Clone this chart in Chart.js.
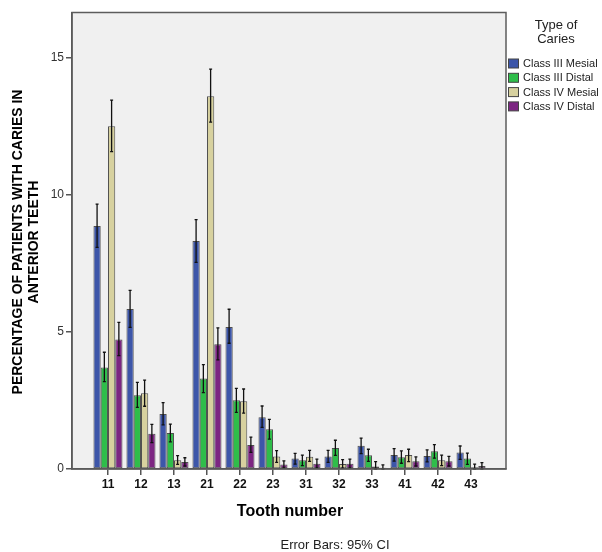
<!DOCTYPE html>
<html>
<head>
<meta charset="utf-8">
<script src="https://cdn.jsdelivr.net/npm/chart.js@4/dist/chart.umd.min.js"></script>
<style>
  html, body { margin: 0; padding: 0; background: #fff; }
  #wrap { width: 602px; height: 552px; }
</style>
</head>
<body>
<div id="wrap"><canvas id="chart" width="602" height="552"></canvas></div>
<script>
// tooth numbers on the x axis
const teeth = ['11', '12', '13', '21', '22', '23', '31', '32', '33', '41', '42', '43'];
const seriesNames = ['Class III Mesial', 'Class III Distal', 'Class IV Mesial', 'Class IV Distal'];

// bar heights (% of patients) and 95% CI bounds
const c3Mesial   = [8.87, 5.84, 2.01, 8.32, 5.18, 1.89, 0.38, 0.46, 0.85, 0.51, 0.47, 0.60];
const c3MesialLo = [8.09, 5.17, 1.61, 7.54, 4.59, 1.52, 0.18, 0.24, 0.56, 0.29, 0.26, 0.35];
const c3MesialHi = [9.67, 6.52, 2.42, 9.10, 5.83, 2.30, 0.57, 0.68, 1.13, 0.74, 0.70, 0.84];

const c3Distal   = [3.70, 2.69, 1.31, 3.30, 2.51, 1.45, 0.32, 0.77, 0.50, 0.43, 0.65, 0.38];
const c3DistalLo = [3.19, 2.25, 0.99, 2.79, 2.07, 1.09, 0.12, 0.50, 0.28, 0.21, 0.40, 0.17];
const c3DistalHi = [4.26, 3.16, 1.64, 3.81, 2.94, 1.81, 0.51, 1.05, 0.72, 0.66, 0.89, 0.58];

const c4Mesial   = [12.51, 2.76, 0.32, 13.60, 2.47, 0.46, 0.45, 0.18, 0.09, 0.51, 0.32, 0.06];
const c4MesialLo = [11.58, 2.29, 0.17, 12.66, 2.04, 0.24, 0.28, 0.03, 0.00, 0.27, 0.12, 0.00];
const c4MesialHi = [13.46, 3.24, 0.49, 14.59, 2.92, 0.67, 0.68, 0.34, 0.27, 0.72, 0.51, 0.18];

const c4Distal   = [4.73, 1.29, 0.26, 4.55, 0.88, 0.16, 0.19, 0.19, 0.05, 0.28, 0.28, 0.11];
const c4DistalLo = [4.14, 0.96, 0.11, 3.98, 0.61, 0.04, 0.04, 0.04, 0.00, 0.11, 0.11, 0.00];
const c4DistalHi = [5.35, 1.63, 0.41, 5.15, 1.16, 0.30, 0.36, 0.36, 0.15, 0.44, 0.46, 0.23];

const yTicks = [0, 5, 10, 15];

const FONT = "'Liberation Sans', Arial, sans-serif";
const colors = ['#3d56a9', '#2fbd4a', '#d7d19f', '#7c2682'];
const values = [c3Mesial, c3Distal, c4Mesial, c4Distal];
const lows = [c3MesialLo, c3DistalLo, c4MesialLo, c4DistalLo];
const highs = [c3MesialHi, c3DistalHi, c4MesialHi, c4DistalHi];

// grey plot background
const plotBackground = {
  id: 'plotBackground',
  beforeDraw(chart) {
    const { ctx, chartArea: a } = chart;
    ctx.save();
    ctx.fillStyle = '#f0f0f0';
    ctx.fillRect(a.left, a.top, a.right - a.left, a.bottom - a.top);
    ctx.restore();
  }
};

// 95% CI whiskers
const errorBars = {
  id: 'errorBars',
  afterDatasetsDraw(chart) {
    const { ctx } = chart;
    const y = chart.scales.y;
    ctx.save();
    ctx.strokeStyle = '#111';
    ctx.lineWidth = 1.3;
    chart.data.datasets.forEach((ds, di) => {
      const meta = chart.getDatasetMeta(di);
      meta.data.forEach((bar, i) => {
        const yl = y.getPixelForValue(lows[di][i]);
        const yh = y.getPixelForValue(highs[di][i]);
        ctx.beginPath();
        ctx.moveTo(bar.x, yl);
        ctx.lineTo(bar.x, yh);
        ctx.moveTo(bar.x - 1.5, yl);
        ctx.lineTo(bar.x + 1.5, yl);
        ctx.moveTo(bar.x - 1.5, yh);
        ctx.lineTo(bar.x + 1.5, yh);
        ctx.stroke();
      });
    });
    ctx.restore();
  }
};

// frame, axis titles, legend and footnote
const decorations = {
  id: 'decorations',
  afterDraw(chart) {
    const { ctx, chartArea: a } = chart;
    ctx.save();
    ctx.strokeStyle = '#5c5c5c';
    ctx.lineWidth = 1.5;
    ctx.strokeRect(a.left, a.top, a.right - a.left, a.bottom - a.top);

    ctx.fillStyle = '#000';
    ctx.textAlign = 'center';
    ctx.textBaseline = 'middle';

    // y title
    ctx.save();
    ctx.translate(0, 242);
    ctx.rotate(-Math.PI / 2);
    ctx.font = 'bold 14px ' + FONT;
    ctx.fillText('PERCENTAGE OF PATIENTS WITH CARIES IN', 0, 18);
    ctx.fillText('ANTERIOR TEETH', 0, 34);
    ctx.restore();

    // x title
    ctx.font = 'bold 16px ' + FONT;
    ctx.fillText('Tooth number', 290, 512);

    // footnote
    ctx.font = '13px ' + FONT;
    ctx.fillStyle = '#222';
    ctx.fillText('Error Bars: 95% CI', 335, 545);

    // legend
    ctx.fillStyle = '#222';
    ctx.font = '13px ' + FONT;
    ctx.fillText('Type of', 556, 25);
    ctx.fillText('Caries', 556, 39);
    ctx.font = '11px ' + FONT;
    ctx.textAlign = 'left';
    seriesNames.forEach((name, i) => {
      const cy = 63.5 + i * 14.3;
      ctx.fillStyle = colors[i];
      ctx.fillRect(508.5, cy - 4.5, 10, 9);
      ctx.strokeStyle = '#444';
      ctx.lineWidth = 1;
      ctx.strokeRect(508.5, cy - 4.5, 10, 9);
      ctx.fillStyle = '#222';
      ctx.fillText(name, 523, cy + 0.5);
    });
    ctx.restore();
  }
};

new Chart(document.getElementById('chart'), {
  type: 'bar',
  data: {
    datasets: values.map((vals, di) => ({
      label: seriesNames[di],
      data: vals.map((v, i) => ({ x: i, y: v })),
      backgroundColor: colors[di],
      borderColor: 'rgba(50,50,50,0.85)',
      borderWidth: 1,
      borderSkipped: false,
      barPercentage: 1,
      categoryPercentage: 0.88
    }))
  },
  options: {
    responsive: false,
    animation: false,
    layout: { padding: { top: 12.5, right: 96, bottom: 0, left: 0 } },
    plugins: { legend: { display: false }, tooltip: { enabled: false } },
    scales: {
      x: {
        type: 'linear',
        offset: false,
        min: -1.09,
        max: 12.06,
        afterBuildTicks(scale) { scale.ticks = teeth.map((t, i) => ({ value: i })); },
        afterFit(scale) { scale.height = 83; },
        ticks: {
          callback: (v) => teeth[v],
          font: { family: FONT, size: 12, weight: 'bold' },
          color: '#111',
          padding: 2,
          maxRotation: 0,
          autoSkip: false
        },
        grid: { offset: false, drawOnChartArea: false, drawTicks: true, tickLength: 6, color: '#555', lineWidth: 1.5 },
        border: { display: true, color: '#555', width: 1.5 }
      },
      y: {
        min: 0,
        max: 16.66,
        afterBuildTicks(scale) { scale.ticks = yTicks.map(v => ({ value: v })); },
        afterFit(scale) { scale.width = 72; },
        ticks: {
          font: { family: FONT, size: 12 },
          color: '#333',
          padding: 2
        },
        grid: { drawOnChartArea: false, drawTicks: true, tickLength: 6, color: '#555', lineWidth: 1.5 },
        border: { display: true, color: '#555', width: 1.5 }
      }
    }
  },
  plugins: [plotBackground, errorBars, decorations]
});
</script>
</body>
</html>
